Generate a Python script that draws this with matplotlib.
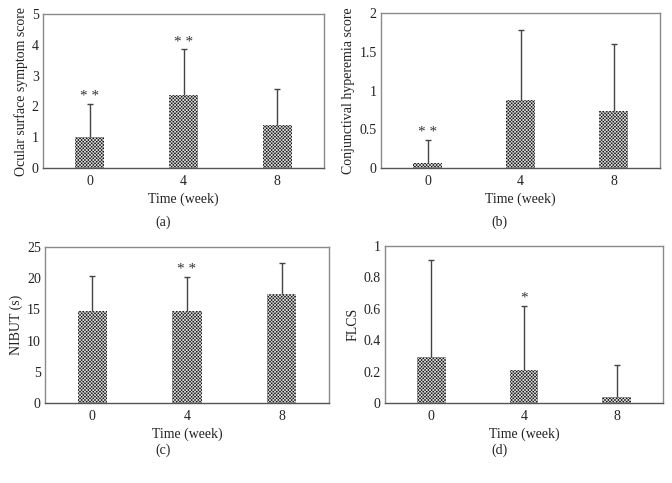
import numpy as np
import matplotlib.pyplot as plt

plt.rcParams['font.family'] = ['Liberation Serif', 'DejaVu Serif']
plt.rcParams['hatch.linewidth'] = 0.5

weeks = ['0', '4', '8']

# (a) ocular surface symptom score
osss_mean = [1.0, 2.37, 1.40]
osss_top = [2.07, 3.85, 2.56]
osss_sig = ['* *', '* *', '']

# (b) conjunctival hyperemia score
hyp_mean = [0.07, 0.88, 0.74]
hyp_top = [0.36, 1.78, 1.60]
hyp_sig = ['* *', '', '']

# (c) NIBUT
nibut_mean = [14.8, 14.8, 17.5]
nibut_top = [20.3, 20.2, 22.5]
nibut_sig = ['', '* *', '']

# (d) FLCS
flcs_mean = [0.29, 0.21, 0.04]
flcs_top = [0.91, 0.62, 0.24]
flcs_sig = ['', '*', '']

W, H = 672, 483
fig = plt.figure(figsize=(W / 100, H / 100), dpi=100)


def panel(box, mean, top, sig, ylim, yticks, yticklabels, ylabel, letter, letter_x, letter_y):
    l, t, r, b = box
    ax = fig.add_axes([l / W, 1 - b / H, (r - l) / W, (b - t) / H])
    x = np.arange(len(weeks))
    ax.bar(x, mean, width=0.31, color='#1a1a1a', edgecolor='#d8d8d8', hatch='xxxxxxxxxx', linewidth=0, zorder=2)
    # upper error bars only: stem from bar top plus a small cap
    ax.vlines(x, mean, top, color='#444444', linewidth=1, zorder=3)
    ax.plot(x, top, linestyle='none', marker='_', markersize=4, markeredgewidth=1,
            color='#444444', zorder=3)
    for xi, ti, s in zip(x, top, sig):
        if s:
            ax.text(xi, ti + (ylim[1] - ylim[0]) * 0.005, s, ha='center', va='bottom',
                    fontsize=11, color='#333333')
    ax.set_xlim(-0.5, 2.5)
    ax.set_ylim(*ylim)
    ax.set_xticks(x)
    ax.set_xticklabels(weeks)
    ax.set_yticks(yticks)
    ax.set_yticklabels(yticklabels)
    ax.tick_params(axis='y', length=0, labelsize=10, colors='#222222', pad=3)
    ax.tick_params(axis='x', length=0, labelsize=10, colors='#222222', pad=5)
    for s in ['top', 'right', 'left']:
        ax.spines[s].set_color('#8a8a8a')
        ax.spines[s].set_linewidth(1)
    ax.spines['bottom'].set_color('#555555')
    ax.spines['bottom'].set_linewidth(1)
    ax.set_xlabel('Time (week)', fontsize=10, color='#222222', labelpad=3)
    ax.set_ylabel(ylabel, fontsize=10, color='#222222', labelpad=3)
    fig.text(letter_x / W, 1 - letter_y / H, letter, ha='center', va='center',
             fontsize=10, color='#222222')
    return ax


panel((43, 14, 324, 168), osss_mean, osss_top, osss_sig, (0, 5),
      [0, 1, 2, 3, 4, 5], ['0', '1', '2', '3', '4', '5'],
      'Ocular surface symptom score', '(a)', 163, 222)
panel((381, 13, 660, 168), hyp_mean, hyp_top, hyp_sig, (0, 2),
      [0, 0.5, 1, 1.5, 2], ['0', '0.5', '1', '1.5', '2'],
      'Conjunctival hyperemia score', '(b)', 499, 222)
panel((45, 247, 329, 403), nibut_mean, nibut_top, nibut_sig, (0, 25),
      [0, 5, 10, 15, 20, 25], ['0', '5', '10', '15', '20', '25'],
      'NIBUT (s)', '(c)', 163, 450)
panel((385, 246, 663, 403), flcs_mean, flcs_top, flcs_sig, (0, 1),
      [0, 0.2, 0.4, 0.6, 0.8, 1], ['0', '0.2', '0.4', '0.6', '0.8', '1'],
      'FLCS', '(d)', 499, 450)

fig.savefig('out.png', dpi=100)
